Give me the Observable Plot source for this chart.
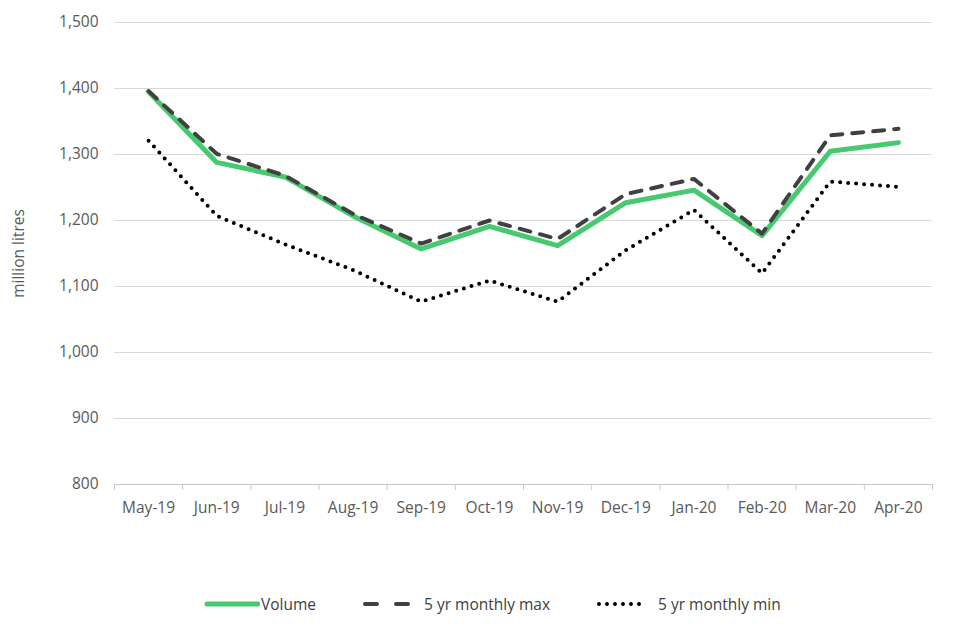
<!DOCTYPE html>
<html>
<head>
<meta charset="utf-8">
<script src="https://cdn.jsdelivr.net/npm/d3@7"></script>
<script src="https://cdn.jsdelivr.net/npm/@observablehq/plot@0.6"></script>
<style>
  body { margin: 0; background: #fff; font-family: "Open Sans", sans-serif; }
  #legend { display: flex; align-items: center; position: absolute; top: 593px; left: 204px; font-size: 15.5px; color: #404040; }
  #legend .item { display: flex; align-items: center; }
  #legend svg { display: block; }
</style>
</head>
<body>
<div id="chart"></div>
<div id="legend"></div>
<script>
const months = ["May-19","Jun-19","Jul-19","Aug-19","Sep-19","Oct-19","Nov-19","Dec-19","Jan-20","Feb-20","Mar-20","Apr-20"];
const volume = [1395, 1288, 1266, 1207, 1157, 1191, 1162, 1227, 1246, 1177, 1305, 1318];
const max5   = [1396, 1301, 1268, 1210, 1165, 1200, 1172, 1240, 1263, 1180, 1329, 1339];
const min5   = [1321, 1207, 1164, 1125, 1077, 1109, 1077, 1155, 1216, 1120, 1259, 1251];
const yTicks = [800, 900, 1000, 1100, 1200, 1300, 1400, 1500];

const seriesInfo = [
  {key: "volume", label: "Volume", stroke: "#47c96f", width: 5, dash: null, cap: "round"},
  {key: "max", label: "5 yr monthly max", stroke: "#404040", width: 4, dash: "11 10", cap: "round"},
  {key: "min", label: "5 yr monthly min", stroke: "#000000", width: 4, dash: "0 8", cap: "round"}
];

const rows = months.map((m, i) => ({i, month: m, volume: volume[i], max: max5[i], min: min5[i]}));
const idx = months.map((m, i) => i);
const bounds = d3.range(months.length + 1).map(i => i - 0.5);

const chart = Plot.plot({
  width: 960,
  height: 530,
  marginLeft: 114,
  marginRight: 28,
  marginTop: 22,
  marginBottom: 46,
  style: {fontFamily: "Open Sans, sans-serif", fontSize: "15.5px", color: "#595959", background: "#fff"},
  x: {domain: [-0.5, months.length - 0.5]},
  y: {domain: [800, 1500]},
  marks: [
    Plot.gridY(yTicks, {stroke: "#d9d9d9", strokeOpacity: 1, strokeWidth: 1}),
    Plot.axisY(yTicks, {tickSize: 0, tickPadding: 16, tickFormat: d3.format(","), label: "million litres", labelAnchor: "center", labelArrow: "none", labelOffset: 102}),
    Plot.ruleY([800], {stroke: "#c8c8c8", strokeWidth: 1}),
    Plot.axisX(bounds, {tickSize: 6, tickFormat: () => "", stroke: "#c8c8c8", label: null}),
    Plot.axisX(idx, {tickSize: 0, tickPadding: 17, tickFormat: i => months[i], label: null}),
    ...seriesInfo.map(s => Plot.line(rows, {
      x: "i", y: s.key, stroke: s.stroke, strokeWidth: s.width,
      strokeDasharray: s.dash, strokeLinecap: s.cap, strokeLinejoin: "round"
    }))
  ]
});
document.getElementById("chart").append(chart);

const legend = document.getElementById("legend");
const gaps = [0, 46, 46];
seriesInfo.forEach((s, k) => {
  const item = document.createElement("div");
  item.className = "item";
  item.style.marginLeft = gaps[k] + "px";
  const sw = d3.create("svg").attr("width", 56).attr("height", 20);
  sw.append("line").attr("x1", 3).attr("x2", s.key === "volume" ? 54 : 50).attr("y1", 10).attr("y2", 10)
    .attr("stroke", s.stroke).attr("stroke-width", s.width)
    .attr("stroke-dasharray", s.key === "max" ? "12 19" : s.dash).attr("stroke-linecap", s.cap);
  item.append(sw.node());
  const t = document.createElement("span");
  t.textContent = s.label;
  t.style.marginLeft = s.key === "volume" ? "1px" : "6px";
  item.append(t);
  legend.append(item);
});
</script>
</body>
</html>
